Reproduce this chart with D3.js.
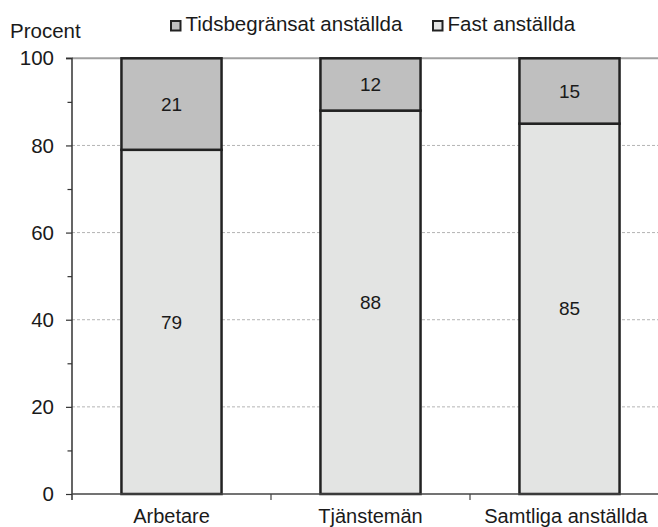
<!DOCTYPE html>
<html><head><meta charset="utf-8">
<script src="https://cdn.jsdelivr.net/npm/d3@7"></script>
<style>
html,body{margin:0;padding:0;background:#fff;overflow:hidden}
text{font-family:"Liberation Sans",Arial,sans-serif;fill:#1a1a1a}
</style></head><body>
<svg id="c" width="658" height="527"></svg>
<script>
const categories = ["Arbetare", "Tjänstemän", "Samtliga anställda"];
const fast = [79, 88, 85];          // Fast anställda
const tids = [21, 12, 15];          // Tidsbegränsat anställda
const seriesNames = ["Tidsbegränsat anställda", "Fast anställda"];
const yTicks = [0, 20, 40, 60, 80, 100];
const yMinor = [10, 30, 50, 70, 90];

const svg = d3.select("#c");
const L = 72, R = 669, T = 58.3, B = 494;
const x = d3.scaleBand().domain(categories).range([L, R]).padding(0);
const y = d3.scaleLinear().domain([0, 100]).range([B, T]);
const barW = x.bandwidth() * 0.503;
const fillT = "#bfbfbf", fillF = "#e3e4e3", stroke = "#222";

// gridlines
svg.append("g").selectAll("line").data(yTicks.filter(d => d > 0 && d < 100)).join("line")
  .attr("x1", L).attr("x2", 658).attr("y1", d => y(d)).attr("y2", d => y(d))
  .attr("stroke", "#b4b4b4").attr("stroke-width", 1).attr("stroke-dasharray", "3,2");
svg.append("line").attr("x1", L).attr("x2", 658).attr("y1", y(100)).attr("y2", y(100))
  .attr("stroke", "#a0a0a0").attr("stroke-width", 2);

// bars
const data = categories.map((c, i) => ({c, fast: fast[i], tids: tids[i]}));
const g = svg.append("g");
data.forEach(d => {
  const bx = x(d.c) + (x.bandwidth() - barW) / 2;
  g.append("rect").attr("x", bx).attr("width", barW)
    .attr("y", y(d.fast)).attr("height", y(0) - y(d.fast))
    .attr("fill", fillF).attr("stroke", stroke).attr("stroke-width", 2.5);
  g.append("rect").attr("x", bx).attr("width", barW)
    .attr("y", y(d.fast + d.tids)).attr("height", y(d.fast) - y(d.fast + d.tids))
    .attr("fill", fillT).attr("stroke", stroke).attr("stroke-width", 2.5);
  const cx = x(d.c) + x.bandwidth() / 2;
  g.append("text").attr("x", cx).attr("y", y(d.fast / 2)).attr("dy", "0.35em")
    .attr("text-anchor", "middle").attr("font-size", 19).text(d.fast);
  g.append("text").attr("x", cx).attr("y", y(d.fast + d.tids / 2)).attr("dy", "0.35em")
    .attr("text-anchor", "middle").attr("font-size", 19).text(d.tids);
});

// y axis
const yAxis = d3.axisLeft(y).tickValues(yTicks).tickSize(6).tickPadding(12);
const ya = svg.append("g").attr("transform", `translate(${L},0)`).call(yAxis);
ya.select(".domain").attr("stroke", "#333").attr("stroke-width", 1.5).attr("d", `M-6,${T}H0V${B + 6}`);
ya.selectAll(".tick line").attr("stroke", "#333").attr("stroke-width", 1.2);
ya.selectAll(".tick text").attr("font-size", 20.5).attr("font-family", "Liberation Sans, Arial, sans-serif").attr("fill", "#1a1a1a");
const yMinorAxis = d3.axisLeft(y).tickValues(yMinor).tickSize(4.5).tickFormat("");
const ym = svg.append("g").attr("transform", `translate(${L},0)`).call(yMinorAxis);
ym.select(".domain").remove();
ym.selectAll(".tick line").attr("stroke", "#333").attr("stroke-width", 1.2);

// x axis
const xa = svg.append("g").attr("transform", `translate(0,${B})`);
xa.append("line").attr("x1", L).attr("x2", 658).attr("y1", 0).attr("y2", 0)
  .attr("stroke", "#444").attr("stroke-width", 1.5);
xa.selectAll("line.sep").data(categories.slice(1)).join("line").attr("class", "sep")
  .attr("x1", d => x(d)).attr("x2", d => x(d)).attr("y1", 0).attr("y2", 6)
  .attr("stroke", "#444").attr("stroke-width", 1.2);
xa.selectAll("text").data(categories).join("text")
  .attr("x", d => Math.min(x(d) + x.bandwidth() / 2, 566))
  .attr("y", 28.5).attr("text-anchor", "middle").attr("font-size", 20).text(d => d);

// y title
svg.append("text").attr("x", 10).attr("y", 38.3).attr("font-size", 20.5).text("Procent");

// legend
const legX = [170, 432];
const legFill = [fillT, fillF];
seriesNames.forEach((s, i) => {
  svg.append("rect").attr("x", legX[i] + 1).attr("y", 21).attr("width", 9.5).attr("height", 9.5)
    .attr("fill", legFill[i]).attr("stroke", stroke).attr("stroke-width", 2);
  svg.append("text").attr("x", legX[i] + 15.5).attr("y", 31).attr("font-size", 20.5).text(s);
});
</script>
</body></html>
